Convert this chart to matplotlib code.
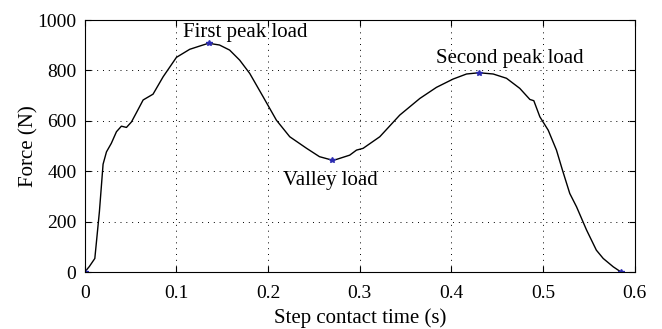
import matplotlib
matplotlib.use("Agg")
import matplotlib.pyplot as plt

plt.rcParams['font.family'] = ['Liberation Serif', 'DejaVu Serif']

# Force curve
time = [0.0, 0.005, 0.011, 0.016, 0.020, 0.0237, 0.029, 0.0346, 0.040, 0.0455,
        0.051, 0.056, 0.0637, 0.0745, 0.0855, 0.100, 0.1145, 0.1255, 0.135,
        0.147, 0.158, 0.169, 0.180, 0.1945, 0.209, 0.2236, 0.242, 0.256, 0.267,
        0.270, 0.2745, 0.289, 0.2964, 0.3036, 0.3218, 0.3436, 0.3655, 0.3836,
        0.4018, 0.4164, 0.430, 0.4455, 0.460, 0.4745, 0.4855, 0.4898, 0.4964,
        0.5055, 0.5145, 0.521, 0.529, 0.5364, 0.5473, 0.558, 0.5655, 0.5764,
        0.585]
force = [0, 22, 54, 240, 428, 477, 511, 557, 579, 574,
         596, 630, 683, 706, 775, 852, 884, 897, 908,
         901, 881, 841, 788, 696, 603, 537, 491, 458, 447,
         444, 447, 464, 484, 491, 537, 623, 689, 733,
         766, 786, 791, 786, 769, 729, 685, 680, 616,
         563, 484, 405, 312, 259, 167, 87, 54, 21,
         0]

key_t = [0.0, 0.1353, 0.270, 0.4302, 0.585]
key_f = [0, 908, 444, 791, 0]

labels = ["First peak load", "Valley load", "Second peak load"]
label_x = [0.175, 0.268, 0.4636]
label_y = [952, 365, 849]

fig = plt.figure(figsize=(6.62, 3.29), dpi=100)
ax = fig.add_axes([0.128, 0.173, 0.831, 0.766])

ax.plot(time, force, color='black', linewidth=1.0)
ax.plot(key_t, key_f, linestyle='none', marker='*', markersize=4,
        color='#2b2bb0')

for lab, lx, ly in zip(labels, label_x, label_y):
    ax.text(lx, ly, lab, ha='center', va='center', fontsize=15)

ax.set_xlim(0, 0.6)
ax.set_ylim(0, 1000)
ax.set_xticks([0, 0.1, 0.2, 0.3, 0.4, 0.5, 0.6])
ax.set_xticklabels(["0", "0.1", "0.2", "0.3", "0.4", "0.5", "0.6"])
ax.set_yticks([0, 200, 400, 600, 800, 1000])
ax.tick_params(direction='in', top=True, right=True, labelsize=14, length=4)
ax.tick_params(axis='x', pad=9)
ax.tick_params(axis='y', pad=6)
ax.grid(True, linestyle=(0, (1, 5)), color='black', linewidth=0.7)
ax.set_xlabel("Step contact time (s)", fontsize=15, labelpad=5)
ax.set_ylabel("Force (N)", fontsize=15, labelpad=-1)

fig.savefig("out.png", dpi=100)
